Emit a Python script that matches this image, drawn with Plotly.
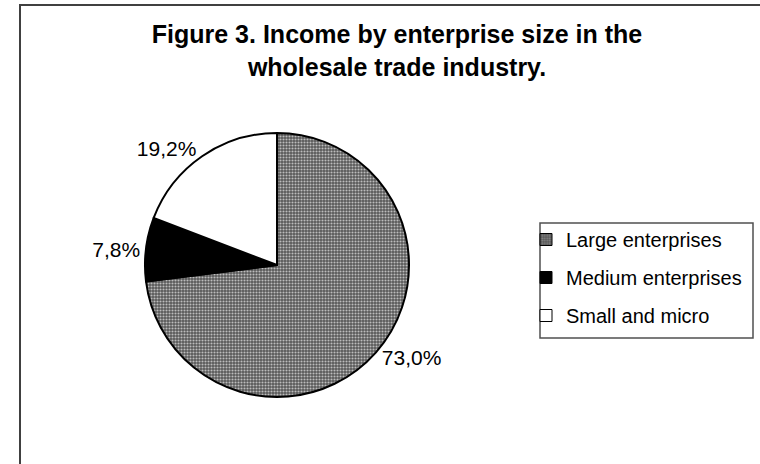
import plotly.graph_objects as go

# data
labels = ["Large enterprises", "Medium enterprises", "Small and micro"]
shares = [73.0, 7.8, 19.2]
slice_colors = ["#6a6a6a", "#000000", "#ffffff"]
pattern_shapes = [".", "", ""]
pattern_bg = ["#585858", "#000000", "#ffffff"]
pattern_fg = "#bcbcbc"

FONT = "Liberation Sans, Arial"

fig = go.Figure()

fig.add_trace(go.Pie(
    labels=labels,
    values=shares,
    sort=False,
    direction="clockwise",
    rotation=0,
    marker=dict(
        colors=slice_colors,
        line=dict(color="#000000", width=2),
        pattern=dict(shape=pattern_shapes, bgcolor=pattern_bg, fgcolor=pattern_fg,
                     size=3, solidity=0.4),
    ),
    texttemplate="%{value:.1f}%",
    textposition="outside",
    textfont=dict(family=FONT, size=21, color="#000000"),
    showlegend=False,
    hoverinfo="label+percent",
    domain=dict(x=[145 / 760, 409 / 760], y=[67 / 464, 331 / 464]),
))

# legend entries (dummy bars so rows can be spaced like the original)
for i, lab in enumerate(labels):
    fig.add_trace(go.Bar(
        x=[None], y=[None],
        name=lab,
        legendgroup=lab,
        marker=dict(
            color=slice_colors[i],
            line=dict(color="#000000", width=1),
            pattern=dict(shape=pattern_shapes[i], bgcolor=pattern_bg[i], fgcolor=pattern_fg,
                         size=3, solidity=0.4),
        ),
    ))

fig.update_xaxes(visible=False)
fig.update_yaxes(visible=False)

# outer frame, runs off the right and bottom edge like the original
fig.add_shape(type="rect", xref="paper", yref="paper",
              x0=20 / 760, x1=1.2, y0=-0.2, y1=(464 - 5) / 464,
              line=dict(color="#404040", width=2), fillcolor="rgba(0,0,0,0)")
# legend box
fig.add_shape(type="rect", xref="paper", yref="paper",
              x0=540 / 760, x1=753 / 760, y0=(464 - 338) / 464, y1=(464 - 223) / 464,
              line=dict(color="#505050", width=1.5), fillcolor="rgba(0,0,0,0)")

fig.update_layout(
    width=760, height=464,
    margin=dict(l=0, r=0, t=0, b=0),
    paper_bgcolor="#ffffff",
    plot_bgcolor="rgba(0,0,0,0)",
    separators=",.",
    font=dict(family=FONT, size=20, color="#000000"),
    title=dict(
        text="<b>Figure 3. Income by enterprise size in the<br>wholesale trade industry.</b>",
        x=397 / 760, xanchor="center",
        y=(464 - 43) / 464, yanchor="top",
        font=dict(family=FONT, size=25, color="#000000"),
    ),
    legend=dict(
        x=526 / 760, xanchor="left",
        y=(464 - 220) / 464, yanchor="top",
        borderwidth=0,
        bgcolor="rgba(0,0,0,0)",
        tracegroupgap=9,
        traceorder="grouped",
        font=dict(family=FONT, size=20, color="#000000"),
        itemwidth=30,
    ),
)

fig.write_html("out.html", config={"displayModeBar": False},
               post_script="document.body.style.margin='0';")
